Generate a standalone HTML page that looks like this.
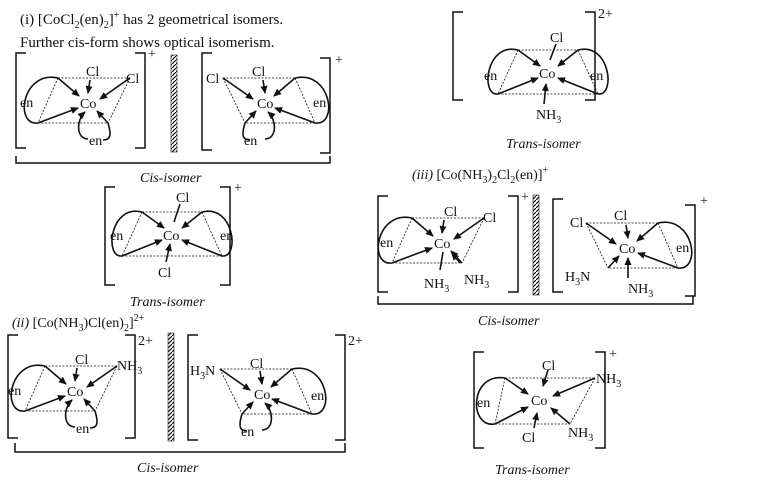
<!DOCTYPE html>
<html><head><meta charset="utf-8"><style>
body{margin:0;background:#fff}
svg{display:block}
text{font-family:"Liberation Serif",serif;font-size:14px;fill:#111}
.i{font-style:italic}
</style></head><body>
<svg width="782" height="481" viewBox="0 0 782 481" xmlns="http://www.w3.org/2000/svg">
<defs>
<marker id="a" markerWidth="8" markerHeight="8" refX="7" refY="4" orient="auto" markerUnits="userSpaceOnUse"><path d="M0,0.5 L8,4 L0,7.5z" fill="#111"/></marker>
<pattern id="h" width="4" height="4" patternUnits="userSpaceOnUse"><path d="M0,4 L4,0" stroke="#111" stroke-width="1.2"/></pattern>
<g id="cis" fill="none" stroke="#111">
 <path d="M58,78 H130 M38,123 H108 M58,78 L38,123 M130,78 L108,123" stroke-dasharray="2,1.5" stroke-width="0.8"/>
 <g stroke-width="1.6" marker-end="url(#a)">
  <path d="M58,78 L79,96"/><path d="M38,123 L78,108"/><path d="M130,78 L100,99"/><path d="M108,123 L97,111"/><path d="M90,80 L88,93"/>
 </g>
 <path d="M58,78 C22,70 14,126 38,123" stroke-width="1.6"/>
</g>
<g id="enb" fill="none" stroke="#111" stroke-width="1.6">
 <path d="M88,139 C76,139 76,120 85,112" marker-end="url(#a)"/>
 <path d="M108,123 C112,136 110,140 103,140"/>
</g>
<g id="trans" fill="none" stroke="#111">
 <path d="M-30,-22 L-50,22 M30,-22 L50,22 M-30,-22 H30 M-50,22 H50" stroke-dasharray="2,1.5" stroke-width="0.8"/>
 <g stroke-width="1.6" marker-end="url(#a)">
  <path d="M-30,-22 L-8,-6"/><path d="M-50,22 L-10,6"/><path d="M30,-22 L10,-6"/><path d="M50,22 L10,6"/>
 </g>
 <path d="M-30,-22 C-62,-30 -68,24 -50,22 M30,-22 C62,-30 68,24 50,22" stroke-width="1.6"/>
</g>
</defs>

<text x="20" y="24" style="font-size:15px">(i) [CoCl<tspan dy="4" font-size="10">2</tspan><tspan dy="-4">(en)</tspan><tspan dy="4" font-size="10">2</tspan><tspan dy="-4">]</tspan><tspan dy="-6" font-size="10">+</tspan><tspan dy="6"> has 2 geometrical isomers.</tspan></text>
<text x="20" y="47" style="font-size:15px">Further cis-form shows optical isomerism.</text>

<g fill="none" stroke="#111" stroke-width="1.5">
<!-- brackets (i) cis -->
<polyline points="26,53 16,53 16,148 26,148"/><polyline points="135,53 145,53 145,148 135,148"/>
<polyline points="212,53 202,53 202,150 212,150"/><polyline points="320,58 330,58 330,153 320,153"/>
<polyline points="16,156 16,163 330,163 330,156"/>
<!-- trans (i) -->
<polyline points="115,187 105,187 105,285 115,285"/><polyline points="220,187 230,187 230,285 220,285"/>
<!-- (ii) -->
<polyline points="18,335 8,335 8,438 18,438"/><polyline points="125,335 135,335 135,438 125,438"/>
<polyline points="198,335 188,335 188,440 198,440"/><polyline points="335,335 345,335 345,440 335,440"/>
<polyline points="15,443 15,452 345,452 345,443"/>
<!-- right trans top -->
<polyline points="463,12 453,12 453,100 463,100"/><polyline points="585,12 595,12 595,100 585,100"/>
<!-- (iii) -->
<polyline points="388,196 378,196 378,292 388,292"/><polyline points="508,196 518,196 518,292 508,292"/>
<polyline points="563,199 553,199 553,292 563,292"/><polyline points="685,205 695,205 695,296 685,296"/>
<polyline points="378,296 378,304 693,304 693,296"/>
<!-- bottom trans -->
<polyline points="484,352 474,352 474,448 484,448"/><polyline points="595,352 605,352 605,448 595,448"/>
</g>
<!-- mirrors -->
<rect x="171" y="55" width="6" height="97" fill="url(#h)" stroke="#111" stroke-width="0.6"/>
<rect x="168" y="333" width="6" height="108" fill="url(#h)" stroke="#111" stroke-width="0.6"/>
<rect x="533" y="195" width="6" height="100" fill="url(#h)" stroke="#111" stroke-width="0.6"/>

<!-- (i) cis left -->
<use href="#cis"/><use href="#enb"/>
<text x="80" y="108">Co</text><text x="86" y="76">Cl</text><text x="126" y="83">Cl</text><text x="20" y="107">en</text><text x="89" y="145">en</text>
<text x="148" y="58" font-size="10">+</text>
<!-- (i) cis right -->
<use href="#cis" transform="translate(353,0) scale(-1,1)"/><use href="#enb" transform="translate(353,0) scale(-1,1)"/>
<text x="257" y="108">Co</text><text x="252" y="76">Cl</text><text x="206" y="83">Cl</text><text x="313" y="107">en</text><text x="244" y="145">en</text>
<text x="335" y="64" font-size="10">+</text>
<text x="140" y="182" class="i">Cis-isomer</text>

<!-- (i) trans -->
<use href="#trans" transform="translate(172,234)"/>
<path d="M180,204 L174,222 M166,262 L170,244" stroke="#111" stroke-width="1.6" marker-end="url(#a)"/>
<text x="163" y="240">Co</text><text x="176" y="202">Cl</text><text x="158" y="277">Cl</text><text x="110" y="240">en</text><text x="220" y="240">en</text>
<text x="234" y="192" font-size="10">+</text>
<text x="130" y="306" class="i">Trans-isomer</text>

<!-- (ii) -->
<text x="12" y="327"><tspan class="i">(ii)</tspan>  [Co(NH<tspan dy="4" font-size="10">3</tspan><tspan dy="-4">)Cl(en)</tspan><tspan dy="4" font-size="10">2</tspan><tspan dy="-4">]</tspan><tspan dy="-6" font-size="10">2+</tspan></text>
<use href="#cis" transform="translate(-13,288)"/><use href="#enb" transform="translate(-13,288)"/>
<text x="67" y="396">Co</text><text x="75" y="364">Cl</text><text x="117" y="370">NH<tspan dy="4" font-size="10">3</tspan></text><text x="8" y="395">en</text><text x="76" y="433">en</text>
<text x="138" y="345" font-size="10">2+</text>
<use href="#cis" transform="translate(350,291) scale(-1,1)"/><use href="#enb" transform="translate(350,291) scale(-1,1)"/>
<text x="254" y="399">Co</text><text x="250" y="368">Cl</text><text x="190" y="375">H<tspan dy="4" font-size="10">3</tspan><tspan dy="-4">N</tspan></text><text x="311" y="400">en</text><text x="241" y="436">en</text>
<text x="348" y="345" font-size="10">2+</text>
<text x="137" y="472" class="i">Cis-isomer</text>

<!-- right top trans -->
<use href="#trans" transform="translate(548,72)"/>
<path d="M556,44 L550,60 M544,104 L546,84" stroke="#111" stroke-width="1.6" marker-end="url(#a)"/>
<text x="539" y="78">Co</text><text x="550" y="42">Cl</text><text x="536" y="119">NH<tspan dy="4" font-size="10">3</tspan></text><text x="484" y="80">en</text><text x="590" y="80">en</text>
<text x="598" y="18" font-size="10">2+</text>
<text x="506" y="148" class="i">Trans-isomer</text>

<!-- (iii) -->
<text x="412" y="179"><tspan class="i">(iii)</tspan> [Co(NH<tspan dy="4" font-size="10">3</tspan><tspan dy="-4">)</tspan><tspan dy="4" font-size="10">2</tspan><tspan dy="-4">Cl</tspan><tspan dy="4" font-size="10">2</tspan><tspan dy="-4">(en)]</tspan><tspan dy="-6" font-size="10">+</tspan></text>
<use href="#cis" transform="translate(354,140)"/>
<path d="M440,270 L443,252 M460,263 L452,253" stroke="#111" stroke-width="1.6" marker-end="url(#a)"/>
<text x="434" y="248">Co</text><text x="444" y="216">Cl</text><text x="483" y="222">Cl</text><text x="380" y="247">en</text><text x="424" y="288">NH<tspan dy="4" font-size="10">3</tspan></text><text x="464" y="284">NH<tspan dy="4" font-size="10">3</tspan></text>
<text x="521" y="201" font-size="10">+</text>
<use href="#cis" transform="translate(716,145) scale(-1,1)"/>
<path d="M628,278 L628,258" stroke="#111" stroke-width="1.6" marker-end="url(#a)"/>
<text x="619" y="253">Co</text><text x="614" y="220">Cl</text><text x="570" y="227">Cl</text><text x="676" y="252">en</text><text x="565" y="281">H<tspan dy="4" font-size="10">3</tspan><tspan dy="-4">N</tspan></text><text x="628" y="293">NH<tspan dy="4" font-size="10">3</tspan></text>
<text x="700" y="205" font-size="10">+</text>
<text x="478" y="325" class="i">Cis-isomer</text>

<!-- bottom trans -->
<g fill="none" stroke="#111">
 <path d="M505,378 H595 M495,424 H570 M505,378 L495,424 M595,378 L570,424" stroke-dasharray="2,1.5" stroke-width="0.8"/>
 <g stroke-width="1.6" marker-end="url(#a)">
  <path d="M505,378 L528,394"/><path d="M495,424 L528,407"/><path d="M595,378 L553,396"/><path d="M570,424 L551,408"/><path d="M548,370 L543,386"/><path d="M534,428 L537,413"/>
 </g>
 <path d="M505,378 C470,372 468,428 495,424" stroke-width="1.6"/>
</g>
<text x="531" y="405">Co</text><text x="542" y="370">Cl</text><text x="522" y="442">Cl</text><text x="596" y="383">NH<tspan dy="4" font-size="10">3</tspan></text><text x="568" y="437">NH<tspan dy="4" font-size="10">3</tspan></text><text x="477" y="407">en</text>
<text x="609" y="358" font-size="10">+</text>
<text x="495" y="474" class="i">Trans-isomer</text>
</svg>
</body></html>
